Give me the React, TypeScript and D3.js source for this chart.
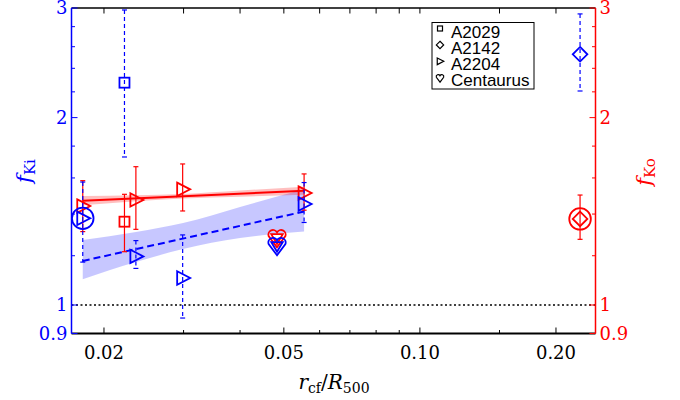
import React from "react";
import * as d3 from "d3";

// Clusters shown in the legend
const clusterNames = ["A2029", "A2142", "A2204", "Centaurus"];

// Cold fronts: cluster and front radius r_cf / R500
const frontCluster = ["A2029", "A2204", "A2204", "A2204", "A2204", "A2142", "Centaurus"];
const frontRadius = [0.0222, 0.01795, 0.02353, 0.02986, 0.05543, 0.2261, 0.04829];

// Inner entropy factor f_Ki (left axis)
const kiValue = [2.276, 1.378, 1.197, 1.105, 1.453, 2.528, 1.249];
const kiLower = [1.729, 1.172, 1.145, 0.953, 1.357, 2.207, null];
const kiUpper = [2.978, 1.576, 1.269, 1.296, 1.573, 2.935, null];

// Outer entropy factor f_Ko (right axis)
const koValue = [1.361, 1.442, 1.475, 1.534, 1.513, 1.375, 1.286];
const koLower = [1.218, 1.312, 1.323, 1.416, 1.42, 1.275, null];
const koUpper = [1.506, 1.584, 1.668, 1.685, 1.624, 1.502, null];

// Fronts highlighted with a ring
const kiCircled = [1];
const koCircled = [5];

// A2204 power-law fits (values at the first and last fit radius) and confidence bands
const fitRadius = [0.01795, 0.02353, 0.02992, 0.04, 0.05543];
const kiFit = [1.177, 1.413];
const kiBandLow = [1.1, 1.172, 1.23, 1.281, 1.312];
const kiBandHigh = [1.272, 1.31, 1.354, 1.437, 1.534];
const koFit = [1.471, 1.526];
const koBandLow = [1.446, 1.468, 1.483, 1.493, 1.504];
const koBandHigh = [1.497, 1.501, 1.508, 1.527, 1.549];

// Axis ticks
const xMajorTicks = [0.02, 0.05, 0.1, 0.2];
const xMajorLabels = ["0.02", "0.05", "0.10", "0.20"];
const xMinorTicks = [0.03, 0.04, 0.06, 0.07, 0.08, 0.09, 0.15];
const yMajorTicks = [0.9, 1, 2, 3];
const yMajorLabels = ["0.9", "1", "2", "3"];
const yMinorTicks = [1.2, 1.4, 1.6, 1.8, 2.2, 2.4, 2.6, 2.8];
const referenceLevel = 1;

const BLUE = "#0000ff";
const RED = "#ff0000";
const SERIF = "'DejaVu Serif', serif";
const SANS = "'Liberation Sans', Arial, sans-serif";

const W = 680;
const H = 400;
const left = 71.5;
const right = 595.5;
const top = 8;
const bottom = 333.5;

const x = d3.scaleLog().domain([0.01695, 0.2446]).range([left, right]);
const y = d3.scaleLog().domain([0.9, 3]).range([bottom, top]);

const heartPath = "M0,9 L-7.3,-0.8 A4,4 0 0 1 0,-4 A4,4 0 0 1 7.3,-0.8 Z";

function Marker({ cluster, cx, cy, color, s = 1, sw = 1.8, inner = true }: any) {
  const common = { fill: "none", stroke: color, strokeWidth: sw / s };
  let shape: any = null;
  if (cluster === "A2029") {
    shape = <rect x={-5} y={-5} width={10} height={10} {...common} />;
  } else if (cluster === "A2142") {
    shape = <path d="M0,-7.3 L7.3,0 L0,7.3 L-7.3,0 Z" {...common} />;
  } else if (cluster === "A2204") {
    shape = <path d="M-5.5,-6.7 L7.5,0 L-5.5,6.7 Z" {...common} />;
  } else {
    const hs = inner ? 1.15 : 1;
    shape = (
      <g transform={`scale(${hs})`}>
        <path d={heartPath} {...common} strokeWidth={sw / s / hs} />
        {inner && <path d="M-5,-2.5 L5,-2.5 L0,6 Z" {...common} strokeWidth={sw / s / hs} />}
      </g>
    );
  }
  return <g transform={`translate(${cx},${cy}) scale(${s})`}>{shape}</g>;
}

function Series({ values, lower, upper, circled, color, dashed }: any) {
  return (
    <g>
      {values.map((v: number, i: number) => {
        const cx = x(frontRadius[i]);
        const lo = lower[i];
        const hi = upper[i];
        return (
          <g key={i}>
            {lo != null && hi != null && (
              <g stroke={color} strokeWidth={1.2}>
                <line x1={cx} x2={cx} y1={y(hi)} y2={y(lo)} strokeDasharray={dashed ? "4,3" : undefined} />
                <line x1={cx - 2.5} x2={cx + 2.5} y1={y(hi)} y2={y(hi)} />
                <line x1={cx - 2.5} x2={cx + 2.5} y1={y(lo)} y2={y(lo)} />
              </g>
            )}
            <Marker cluster={frontCluster[i]} cx={cx} cy={y(v)} color={color} />
            {circled.includes(i) && (
              <circle cx={cx} cy={y(v)} r={10.8} fill="none" stroke={color} strokeWidth={1.8} />
            )}
          </g>
        );
      })}
    </g>
  );
}

export default function App() {
  const band = (lo: number[], hi: number[]) =>
    d3
      .area<number>()
      .x((_, i) => x(fitRadius[i]))
      .y0((_, i) => y(lo[i]))
      .y1((_, i) => y(hi[i]))
      .curve(d3.curveMonotoneX)(fitRadius.map((r) => r)) as string;

  const x0 = x(fitRadius[0]);
  const x1 = x(fitRadius[fitRadius.length - 1]);

  return (
    <svg
      width={W}
      height={H}
      style={{ position: "absolute", left: 0, top: 0, background: "#fff" }}
    >
      <rect x={0} y={0} width={W} height={H} fill="#fff" />

      {/* confidence bands */}
      <path d={band(kiBandLow, kiBandHigh)} fill={BLUE} fillOpacity={0.22} stroke="none" />
      <path d={band(koBandLow, koBandHigh)} fill={RED} fillOpacity={0.25} stroke="none" />

      {/* reference level */}
      <line
        x1={left}
        x2={right}
        y1={y(referenceLevel)}
        y2={y(referenceLevel)}
        stroke="#000"
        strokeWidth={1.5}
        strokeDasharray="2,2.5"
      />

      {/* fit lines */}
      <line x1={x0} x2={x1} y1={y(koFit[0])} y2={y(koFit[1])} stroke={RED} strokeWidth={2} />
      <line
        x1={x0}
        x2={x1}
        y1={y(kiFit[0])}
        y2={y(kiFit[1])}
        stroke={BLUE}
        strokeWidth={2}
        strokeDasharray="7,4"
      />

      <Series values={koValue} lower={koLower} upper={koUpper} circled={koCircled} color={RED} dashed={false} />
      <Series values={kiValue} lower={kiLower} upper={kiUpper} circled={kiCircled} color={BLUE} dashed={true} />

      {/* frame */}
      <line x1={left} x2={right} y1={top} y2={top} stroke="#000" strokeWidth={1.5} />
      <line x1={left} x2={right} y1={bottom} y2={bottom} stroke="#000" strokeWidth={1.8} />
      <line x1={left} x2={left} y1={top} y2={bottom} stroke={BLUE} strokeWidth={1.5} />
      <line x1={right} x2={right} y1={top} y2={bottom} stroke={RED} strokeWidth={1.5} />

      {/* x ticks */}
      {xMajorTicks.map((t, i) => (
        <g key={"xm" + i}>
          <line x1={x(t)} x2={x(t)} y1={bottom} y2={bottom - 6} stroke="#000" strokeWidth={1} />
          <line x1={x(t)} x2={x(t)} y1={top} y2={top + 5.5} stroke="#000" strokeWidth={1} />
          <text
            x={x(t)}
            y={359}
            textAnchor="middle"
            fontFamily={SERIF}
            fontSize={18}
            fill="#000"
          >
            {xMajorLabels[i]}
          </text>
        </g>
      ))}
      {xMinorTicks.map((t, i) => (
        <g key={"xn" + i}>
          <line x1={x(t)} x2={x(t)} y1={bottom} y2={bottom - 3.5} stroke="#000" strokeWidth={1} />
          <line x1={x(t)} x2={x(t)} y1={top} y2={top + 5.5} stroke="#000" strokeWidth={1} />
        </g>
      ))}

      {/* y ticks, left (blue) and right (red) */}
      {yMajorTicks.map((t, i) => (
        <g key={"ym" + i}>
          <line x1={left} x2={left + 6} y1={y(t)} y2={y(t)} stroke={BLUE} strokeWidth={1} />
          <line x1={right} x2={right - 6} y1={y(t)} y2={y(t)} stroke={RED} strokeWidth={1} />
          <text
            x={left - 4}
            y={y(t)}
            dy="0.36em"
            textAnchor="end"
            fontFamily={SERIF}
            fontSize={18}
            fill={BLUE}
          >
            {yMajorLabels[i]}
          </text>
          <text
            x={right + 4}
            y={y(t)}
            dy="0.36em"
            textAnchor="start"
            fontFamily={SERIF}
            fontSize={18}
            fill={RED}
          >
            {yMajorLabels[i]}
          </text>
        </g>
      ))}
      {yMinorTicks.map((t, i) => (
        <g key={"yn" + i}>
          <line x1={left} x2={left + 3.5} y1={y(t)} y2={y(t)} stroke={BLUE} strokeWidth={1} />
          <line x1={right} x2={right - 3.5} y1={y(t)} y2={y(t)} stroke={RED} strokeWidth={1} />
        </g>
      ))}

      {/* axis titles */}
      <text
        transform="translate(31,171) rotate(-90)"
        textAnchor="middle"
        fontFamily={SERIF}
        fill={BLUE}
        fontSize={21}
      >
        <tspan fontStyle="italic">f</tspan>
        <tspan fontSize={15} dy={4}>
          Ki
        </tspan>
      </text>
      <text
        transform="translate(651,172) rotate(-90)"
        textAnchor="middle"
        fontFamily={SERIF}
        fill={RED}
        fontSize={21}
      >
        <tspan fontStyle="italic">f</tspan>
        <tspan fontSize={15} dy={4}>
          Ko
        </tspan>
      </text>
      <text x={334} y={389} textAnchor="middle" fontFamily={SERIF} fontSize={20} fill="#000">
        <tspan fontStyle="italic">r</tspan>
        <tspan fontSize={14} dy={4}>
          cf
        </tspan>
        <tspan dy={-4}>/</tspan>
        <tspan fontStyle="italic">R</tspan>
        <tspan fontSize={14} dy={4}>
          500
        </tspan>
      </text>

      {/* legend */}
      <rect x={432} y={22.5} width={102} height={66.5} fill="#fff" stroke="#000" strokeWidth={1} />
      {clusterNames.map((name, i) => (
        <g key={name}>
          <Marker
            cluster={name}
            cx={440}
            cy={28.5 + i * 16.4}
            color="#000"
            s={0.5}
            sw={1.2}
            inner={false}
          />
          <text x={451} y={37.5 + i * 16.3} fontFamily={SANS} fontSize={17} fill="#000">
            {name}
          </text>
        </g>
      ))}
    </svg>
  );
}
